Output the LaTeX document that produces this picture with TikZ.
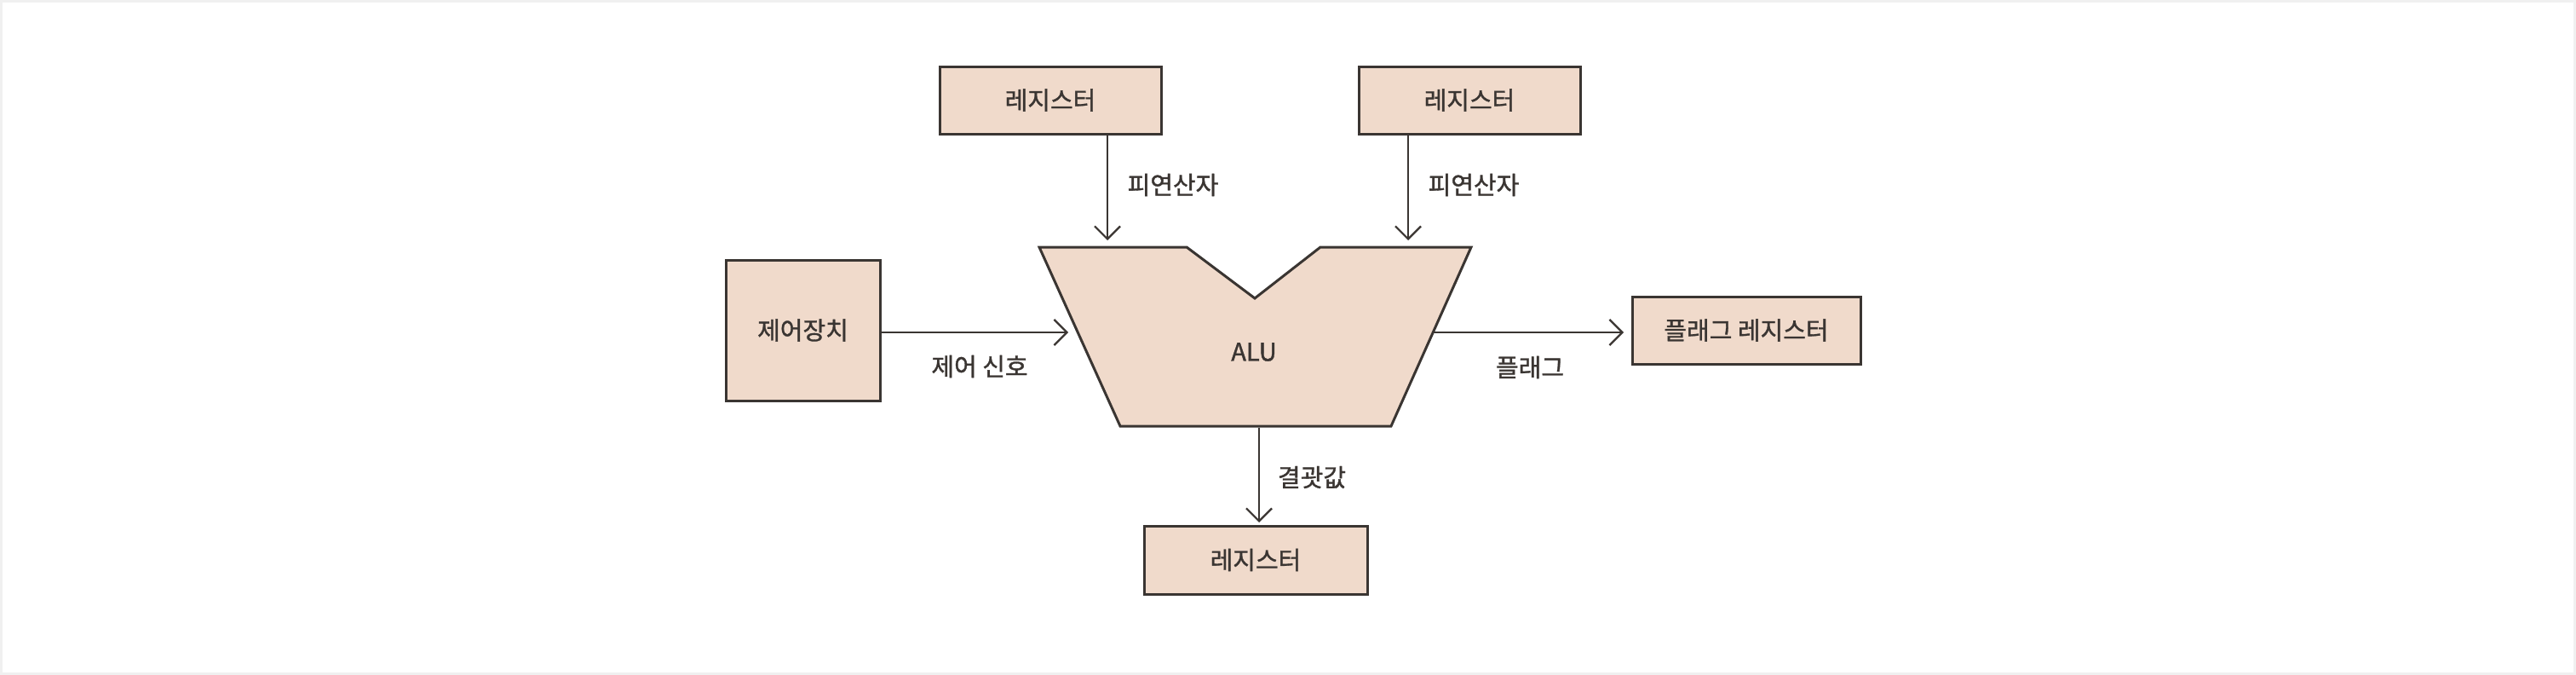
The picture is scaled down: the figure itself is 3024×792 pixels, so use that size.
\documentclass[tikz,border=0pt]{standalone}
\usepackage{fontspec}
\setmainfont[FakeBold=1.2]{Noto Sans CJK KR}
\usetikzlibrary{arrows.meta}
\definecolor{boxfill}{HTML}{F0DACB}
\definecolor{ink}{HTML}{3A3532}
\definecolor{frame}{HTML}{F0F0F0}
\begin{document}
\begin{tikzpicture}[x=1pt,y=-1pt,
  box/.style={draw=ink, fill=boxfill, line width=3pt, inner sep=0pt,
    font=\fontsize{29}{32}\selectfont, text=ink},
  lbl/.style={font=\fontsize{29}{32}\selectfont, text=ink, inner sep=0pt},
  arr/.style={draw=ink, line width=2.2pt,
    -{Straight Barb[length=15pt,width=30pt,line width=2.2pt]}}]
\fill[white] (0,0) rectangle (3024,792);
\draw[frame, line width=3pt] (1.5,1.5) rectangle (3022.5,790.5);
\useasboundingbox (0,0) rectangle (3024,792);

% boxes
\node[box, minimum width=260pt, minimum height=79pt] (reg1) at (1233,117.5) {레지스터};
\node[box, minimum width=260pt, minimum height=79pt] (reg2) at (1725,117.5) {레지스터};
\node[box, minimum width=181pt, minimum height=165pt] (ctrl) at (942.5,387.5) {제어장치};
\node[box, minimum width=268pt, minimum height=79pt] (flagreg) at (2050,387.5) {플래그 레지스터};
\node[box, minimum width=262pt, minimum height=80pt] (reg3) at (1474,657) {레지스터};

% ALU shape
\draw[box] (1220,290) -- (1393,290) -- (1473,350) -- (1550,290) -- (1727,290)
  -- (1633,500) -- (1315,500) -- cycle;
\node[lbl] (alu) at (1472,413) {ALU};

% connection points on the ALU outline
\coordinate (in1) at (1300,282);
\coordinate (in2) at (1653,282);
\coordinate (ctrlin) at (1254,390);
\coordinate (flagout) at (1683,390);
\coordinate (resout) at (1478,502);
\coordinate (flagin) at (1906,390);
\coordinate (resin) at (1478,613);

% connectors
\draw[arr] (reg1.south -| in1) -- (in1);
\draw[arr] (reg2.south -| in2) -- (in2);
\draw[arr] (ctrl.east |- ctrlin) -- (ctrlin);
\draw[arr] (flagout) -- (flagin);
\draw[arr] (resout) -- (resin);

% labels
\node[lbl] (op1) at (1377,217) {피연산자};
\node[lbl] (op2) at (1730,217) {피연산자};
\node[lbl] (sig) at (1150,430) {제어 신호};
\node[lbl] (flag) at (1796,431) {플래그};
\node[lbl] (res) at (1540,560) {결괏값};
\end{tikzpicture}
\end{document}
